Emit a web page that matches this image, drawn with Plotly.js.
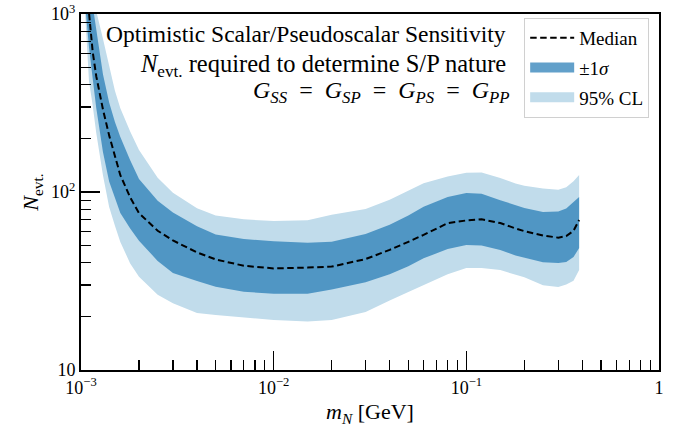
<!DOCTYPE html>
<html>
<head>
<meta charset="utf-8">
<script src="https://cdn.plot.ly/plotly-3.0.1.min.js"></script>
<style>
  html, body { margin: 0; padding: 0; background: #fff; }
  #chart { width: 683px; height: 427px; }
</style>
</head>
<body>
<div id="chart"></div>
<script>
// Heavy-neutrino mass grid (GeV)
const mass = [1.03e-3, 1.05e-3, 1.1e-3, 1.15e-3, 1.2e-3, 1.3e-3, 1.4e-3, 1.5e-3, 1.6e-3, 1.8e-3,
              2e-3, 2.5e-3, 3e-3, 4e-3, 5e-3, 7e-3, 1e-2, 1.5e-2, 2e-2, 3e-2,
              4e-2, 5e-2, 6e-2, 8e-2, 0.1, 0.12, 0.15, 0.18, 0.2, 0.25,
              0.3, 0.33, 0.36, 0.385];

// Number of events needed to tell scalar from pseudoscalar couplings
const median = [2170, 1745, 1000, 613, 447, 291, 208, 157.5, 124.3, 93.3,
                76.1, 60.6, 53.4, 45.8, 41.8, 38.5, 37.2, 37.6, 38.1, 42.0,
                47.3, 52.5, 57.4, 66.8, 69.2, 70.2, 66.9, 62.4, 60.3, 57.0,
                55.4, 56.5, 60.5, 69.6];
const sigmaHi = [2600, 2300, 1600, 1117, 821, 459, 318, 247, 204, 151,
                 118.5, 89.3, 76.8, 64.3, 57.8, 54.4, 52.8, 51.9, 52.6, 58.1,
                 65.4, 73.9, 82.7, 93.6, 98.7, 97.9, 90.0, 84.0, 81.2, 77.2,
                 77.7, 80.8, 87.4, 93.7];
const sigmaLo = [1427, 1137, 652, 434, 296, 168, 114.4, 91.7, 76.2, 62.3,
                 53.2, 41.0, 35.1, 31.6, 29.4, 27.5, 26.8, 26.8, 28.3, 31.1,
                 34.5, 38.3, 42.4, 47.8, 50.4, 50.1, 47.2, 44.0, 42.5, 40.3,
                 39.9, 40.4, 43.1, 48.5];
const cl95Hi = [3200, 2800, 2000, 1300, 1038, 726, 501, 371, 295, 219,
                172, 120.3, 98.9, 81.0, 73.9, 70.2, 68.7, 69.4, 74.6, 80.3,
                90.4, 101.2, 112, 122.2, 128.4, 128.7, 119.7, 111.6, 108.5, 104.8,
                103.0, 106.4, 114.8, 124.6];
const cl95Lo = [1377, 1022, 420, 306.6, 214.5, 124.1, 82.4, 64.7, 52.4, 39.7,
                33.4, 26.5, 23.7, 20.9, 20.4, 19.7, 19.1, 18.7, 19.1, 21.2,
                24.6, 27.4, 29.8, 34.5, 37.4, 37.4, 36.4, 34.4, 33.2, 29.9,
                29.3, 30.2, 31.7, 36.5];

const xTickVals = [1e-3, 1e-2, 1e-1, 1];
const xTickText = ['10<sup>\u22123</sup>', '10<sup>\u22122</sup>', '10<sup>\u22121</sup>', '1'];
const yTickVals = [10, 100, 1000];
const yTickText = ['10', '10<sup>2</sup>', '10<sup>3</sup>'];

const SERIF = '"Liberation Serif", "DejaVu Serif", serif';
const LIGHT = '#c1dceb';
const DARK = 'rgba(31,119,180,0.7)';
const EQ = '\u2002=\u2002';

// closed outline of a band: upper edge left-to-right, lower edge back
function band(hi, lo) {
  return {
    x: mass.concat(mass.slice().reverse()),
    y: hi.concat(lo.slice().reverse())
  };
}

const cl = band(cl95Hi, cl95Lo);
const sg = band(sigmaHi, sigmaLo);

const traces = [
  { x: cl.x, y: cl.y, type: 'scatter', mode: 'lines', fill: 'toself',
    fillcolor: LIGHT, line: { width: 0, color: LIGHT }, hoverinfo: 'skip', showlegend: false },
  { x: sg.x, y: sg.y, type: 'scatter', mode: 'lines', fill: 'toself',
    fillcolor: DARK, line: { width: 0, color: DARK }, hoverinfo: 'skip', showlegend: false },
  { x: mass, y: median, type: 'scatter', mode: 'lines', name: 'Median',
    line: { color: 'black', width: 2, dash: '6.5px,3.5px' },
    legendgroup: 'a', legendrank: 1 },
  // legend swatches for the two bands
  { x: [null], y: [null], type: 'scatter', mode: 'lines', name: '\u00b11<i>\u03c3</i>',
    line: { color: DARK, width: 14 }, legendgroup: 'b', legendrank: 2 },
  { x: [null], y: [null], type: 'scatter', mode: 'lines', name: '95% CL',
    line: { color: LIGHT, width: 14 }, legendgroup: 'c', legendrank: 3 }
];

const axisCommon = {
  type: 'log',
  showline: true, mirror: true, linecolor: 'black', linewidth: 2,
  ticks: 'inside', ticklen: 19, tickwidth: 1.6, tickcolor: 'black',
  tickmode: 'array',
  showgrid: false, zeroline: false,
  tickfont: { family: SERIF, size: 18, color: 'black' },
  minor: { ticks: 'inside', ticklen: 10, tickwidth: 1.2, tickcolor: 'black', dtick: 'D1', showgrid: false }
};

const layout = {
  width: 683, height: 427,
  margin: { l: 81, r: 24, t: 14, b: 57 },
  paper_bgcolor: 'white', plot_bgcolor: 'white',
  font: { family: SERIF, color: 'black' },
  showlegend: true,
  legend: {
    x: 0.983, xanchor: 'right', y: 0.989, yanchor: 'top',
    bgcolor: 'white', bordercolor: '#d0d0d0', borderwidth: 1,
    font: { family: SERIF, size: 19, color: 'black' },
    tracegroupgap: 2, itemwidth: 44, traceorder: 'grouped'
  },
  xaxis: Object.assign({}, axisCommon, {
    range: [-3, 0], tickvals: xTickVals, ticktext: xTickText,
    title: { text: '<i>m</i><sub><i>N</i></sub> [GeV]', font: { family: SERIF, size: 22, color: 'black' }, standoff: 8 }
  }),
  yaxis: Object.assign({}, axisCommon, {
    range: [1, 3], tickvals: yTickVals, ticktext: yTickText,
    title: { text: '<i>N</i><sub>evt.</sub>', font: { family: SERIF, size: 22, color: 'black' }, standoff: 6 }
  }),
  annotations: [
    { xref: 'paper', yref: 'paper', x: 0.739, y: 0.943, xanchor: 'right', yanchor: 'middle',
      align: 'right', showarrow: false,
      text: 'Optimistic Scalar/Pseudoscalar Sensitivity',
      font: { family: SERIF, size: 23.5, color: 'black' } },
    { xref: 'paper', yref: 'paper', x: 0.739, y: 0.856, xanchor: 'right', yanchor: 'middle',
      align: 'right', showarrow: false,
      text: '<i>N</i><sub>evt.</sub> required to determine S/P nature',
      font: { family: SERIF, size: 24.5, color: 'black' } },
    { xref: 'paper', yref: 'paper', x: 0.746, y: 0.781, xanchor: 'right', yanchor: 'middle',
      align: 'right', showarrow: false,
      text: '<i>G</i><sub><i>SS</i></sub>' + EQ + '<i>G</i><sub><i>SP</i></sub>' + EQ +
            '<i>G</i><sub><i>PS</i></sub>' + EQ + '<i>G</i><sub><i>PP</i></sub>',
      font: { family: SERIF, size: 24, color: 'black' } }
  ]
};

Plotly.newPlot('chart', traces, layout, { staticPlot: true, displayModeBar: false });
</script>
</body>
</html>
